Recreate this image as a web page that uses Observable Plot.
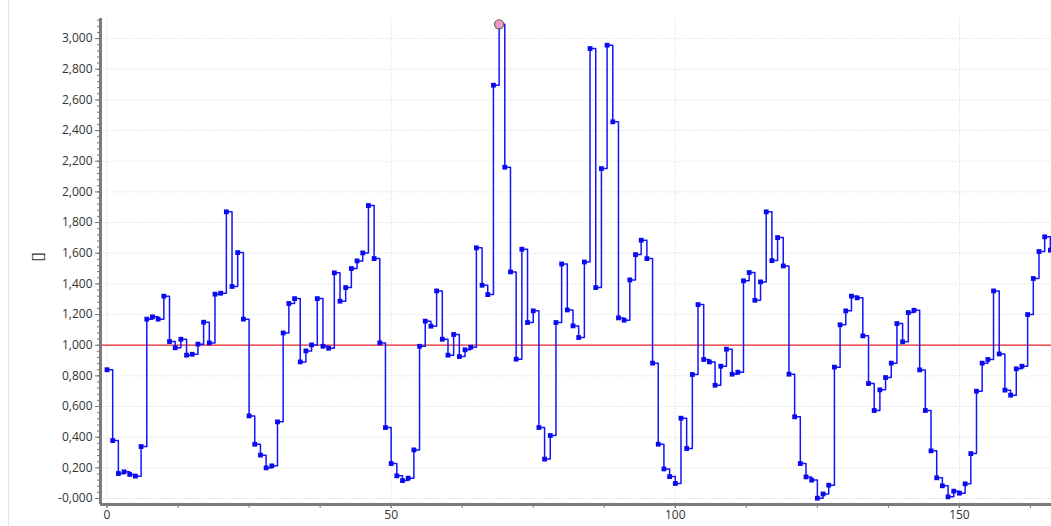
<!DOCTYPE html>
<html>
<head>
<meta charset="utf-8">
<script src="https://cdn.jsdelivr.net/npm/d3@7"></script>
<script src="https://cdn.jsdelivr.net/npm/@observablehq/plot@0.6"></script>
<style>
  html, body { margin: 0; padding: 0; background: #fff; }
  #wrap { position: relative; width: 1051px; height: 526px; overflow: hidden; }
  #edge { position: absolute; left: 8px; top: 0; width: 1px; height: 526px; background: #e6e6e6; }
</style>
</head>
<body>
<div id="wrap"><div id="edge"></div></div>
<script>
// Series values, one per integer x = 0..166
const values = [
  0.840, 0.378, 0.163, 0.174, 0.157, 0.146, 0.339, 1.170, 1.185, 1.170,
  1.320, 1.024, 0.983, 1.039, 0.935, 0.941, 1.007, 1.150, 1.015, 1.333,
  1.339, 1.870, 1.383, 1.604, 1.170, 0.539, 0.354, 0.283, 0.200, 0.213,
  0.500, 1.080, 1.272, 1.304, 0.891, 0.963, 1.002, 1.304, 0.993, 0.980,
  1.472, 1.287, 1.376, 1.500, 1.550, 1.602, 1.911, 1.565, 1.015, 0.463,
  0.228, 0.148, 0.117, 0.133, 0.317, 0.993, 1.157, 1.124, 1.354, 1.039,
  0.935, 1.070, 0.926, 0.970, 0.987, 1.635, 1.391, 1.330, 2.696, 3.093,
  2.161, 1.478, 0.909, 1.626, 1.148, 1.224, 0.463, 0.257, 0.411, 1.148,
  1.530, 1.230, 1.126, 1.050, 1.543, 2.935, 1.376, 2.152, 2.957, 2.457,
  1.178, 1.163, 1.426, 1.591, 1.685, 1.565, 0.883, 0.354, 0.193, 0.143,
  0.098, 0.524, 0.326, 0.809, 1.265, 0.907, 0.891, 0.739, 0.863, 0.974,
  0.811, 0.824, 1.420, 1.474, 1.293, 1.413, 1.870, 1.552, 1.702, 1.517,
  0.811, 0.533, 0.228, 0.141, 0.120, 0.002, 0.030, 0.087, 0.857, 1.133,
  1.224, 1.320, 1.309, 1.061, 0.750, 0.574, 0.709, 0.789, 0.883, 1.141,
  1.022, 1.213, 1.228, 0.839, 0.574, 0.311, 0.135, 0.083, 0.011, 0.048,
  0.035, 0.096, 0.293, 0.700, 0.883, 0.907, 1.354, 0.943, 0.707, 0.674,
  0.846, 0.863, 1.200, 1.435, 1.611, 1.707, 1.620
];
const referenceLevel = [1.0];
const xMajorTicks = [0, 50, 100, 150];
const xMinorTicks = d3.range(0, 167, 12.5);
const yMajorTicks = d3.range(0, 16).map(i => i * 0.2);
const yMinorTicks = d3.range(-1, 79).map(i => i * 0.04);
const yLabel = "[]";

const data = values.map((v, i) => ({x: i, y: v}));
const maxIndex = d3.maxIndex(values);
const highlighted = [data[maxIndex]];

const xDomain = [-1.144, 166.2];
const yDomain = [-0.039, 3.131];
const fmtY = d => (Math.abs(d) < 1e-9 ? "-0,000" : d.toFixed(3).replace(".", ","));

const chart = Plot.plot({
  width: 1051,
  height: 526,
  marginLeft: 100,
  marginRight: 0,
  marginTop: 18,
  marginBottom: 22,
  style: {fontFamily: "'Open Sans', 'Noto Sans', sans-serif", fontSize: "12px", color: "#333", background: "transparent"},
  x: {domain: xDomain, axis: null},
  y: {domain: yDomain, axis: null},
  marks: [
    Plot.gridY(yMajorTicks, {stroke: "#e2e2e2", strokeOpacity: 1, strokeDasharray: "1.5,1.5"}),
    Plot.gridX(xMajorTicks, {stroke: "#e2e2e2", strokeOpacity: 1, strokeDasharray: "1.5,1.5"}),
    Plot.axisY(yMinorTicks.filter(t => t >= yDomain[0] && t <= yDomain[1]), {tickSize: 3, tickFormat: () => "", stroke: "#777", label: null}),
    Plot.axisY(yMajorTicks, {tickSize: 5, tickPadding: 3, tickFormat: fmtY, stroke: "#777", fill: "#333", fontSize: 12, label: null}),
    Plot.axisX(xMinorTicks, {tickSize: 4, tickFormat: () => "", stroke: "#777", label: null}),
    Plot.axisX(xMajorTicks, {tickSize: 4, tickPadding: 2, tickFormat: d => String(d), stroke: "#777", fill: "#333", fontSize: 12, label: null}),
    Plot.ruleY(referenceLevel, {stroke: "#e8262a", strokeWidth: 1.2}),
    Plot.line(data, {x: "x", y: "y", curve: "step-after", stroke: "#1414ff", strokeWidth: 1.5, clip: true}),
    Plot.dot(data, {x: "x", y: "y", symbol: "square", r: 2.7, fill: "#0a0aee", stroke: null, clip: true}),
    Plot.dot(highlighted, {x: "x", y: "y", r: 4.6, fill: "#f29ac0", stroke: "#666", strokeWidth: 1.2}),
    Plot.ruleX([xDomain[0]], {stroke: "#7a7a7a", strokeWidth: 3}),
    Plot.ruleY([yDomain[0]], {stroke: "#7a7a7a", strokeWidth: 3}),
    Plot.text([yLabel], {frameAnchor: "left", dx: -63, rotate: -90, fontSize: 14, fill: "#333"})
  ]
});
document.getElementById("wrap").appendChild(chart);
chart.style.position = "absolute";
chart.style.left = "0";
chart.style.top = "0";
</script>
</body>
</html>
